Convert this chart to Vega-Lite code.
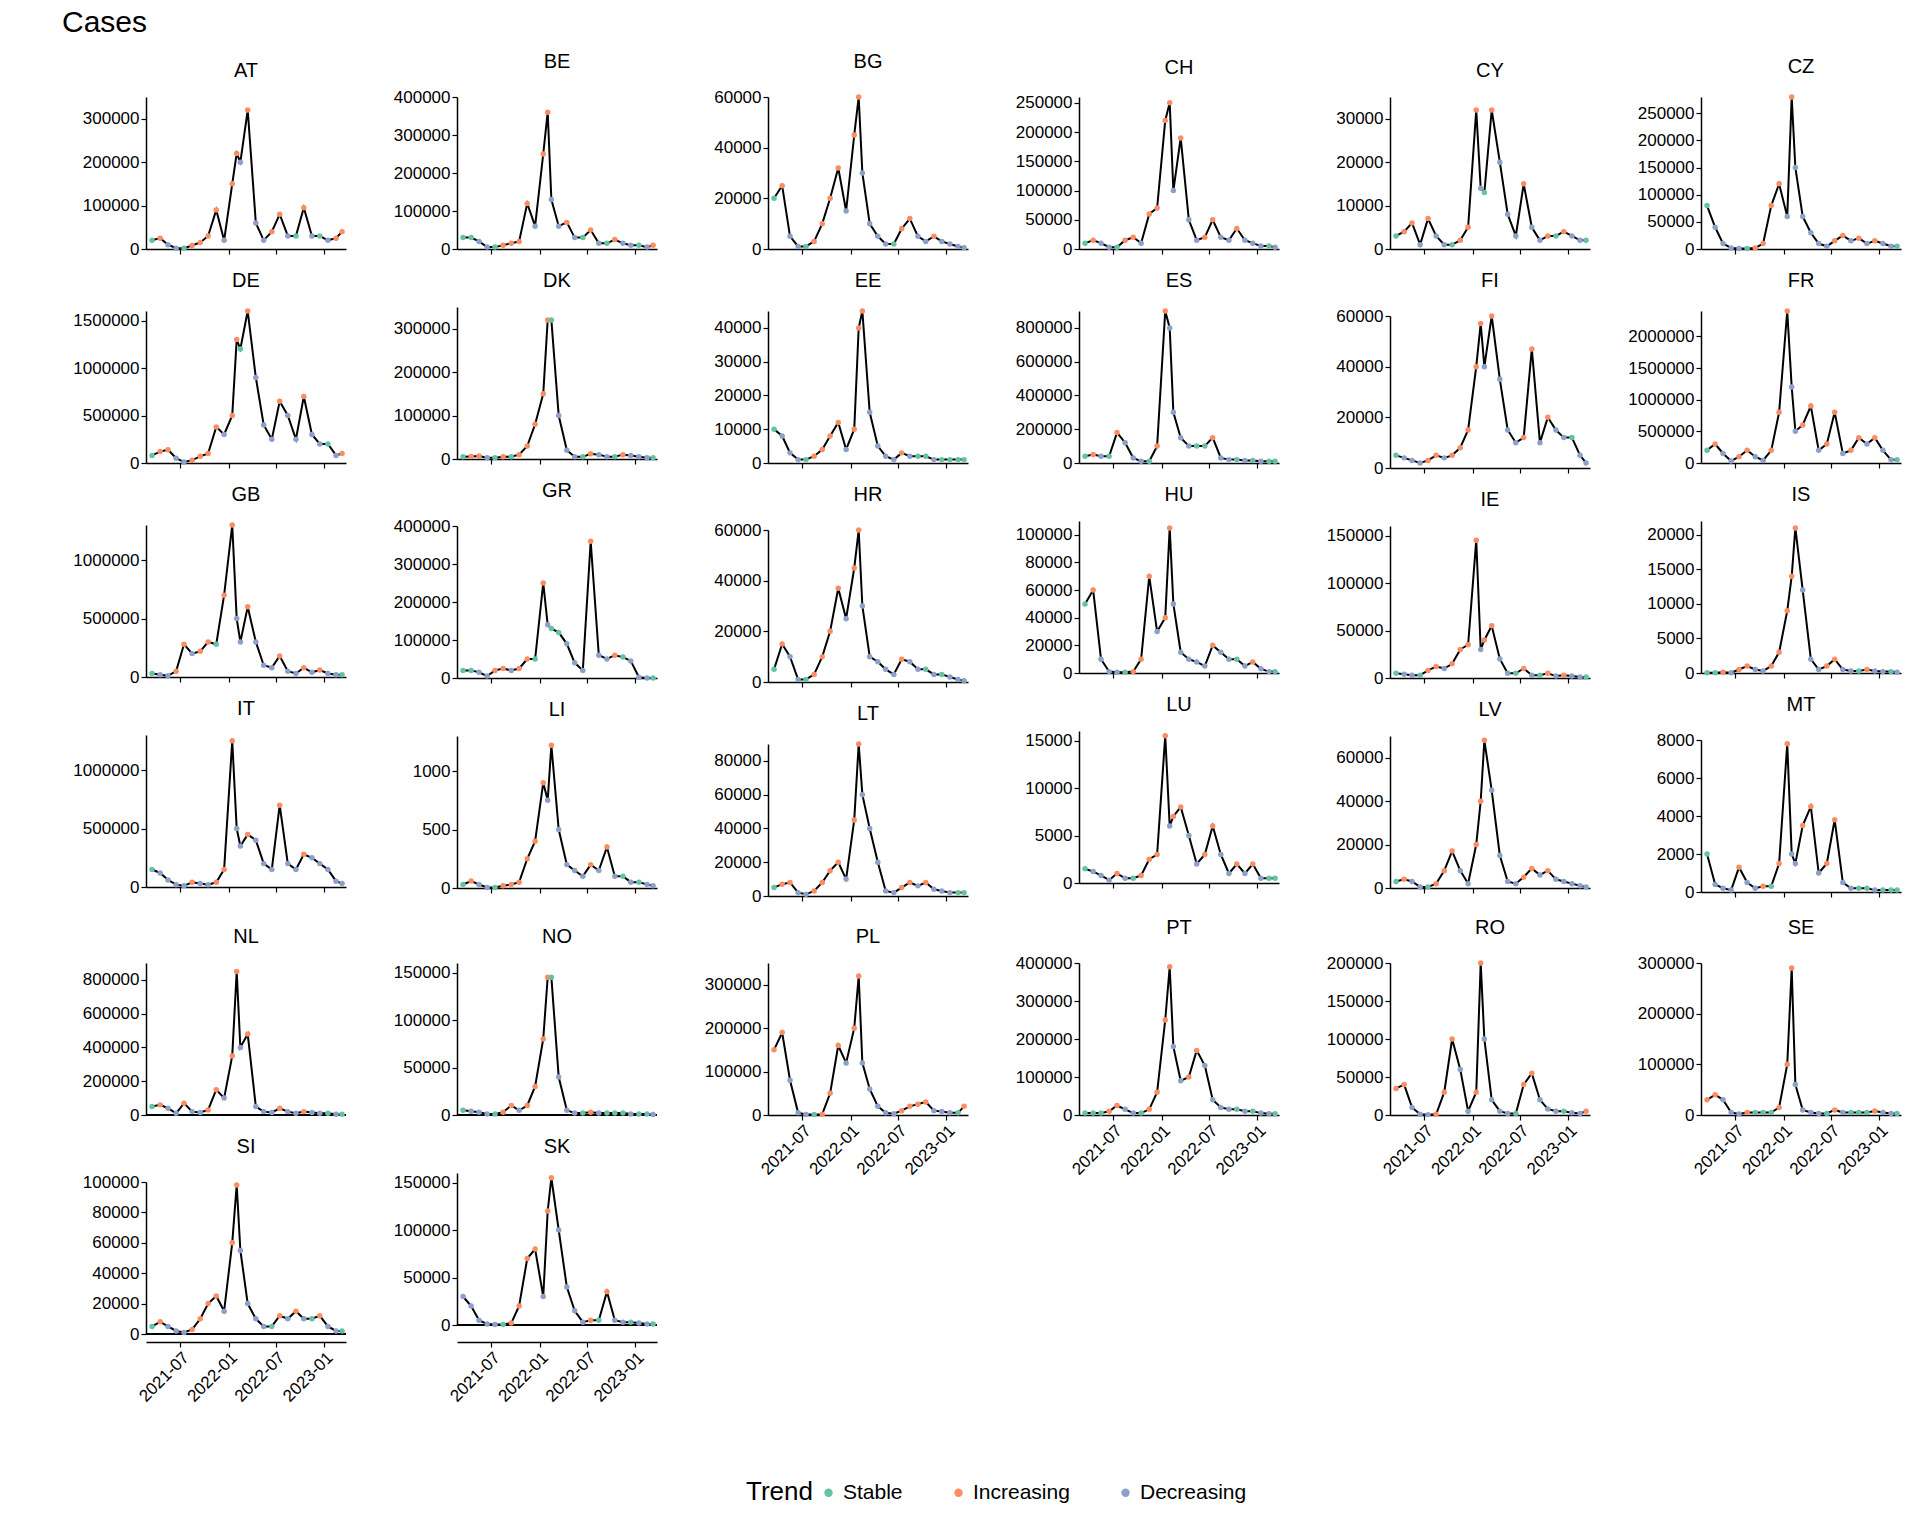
{"$schema":"https://vega.github.io/schema/vega-lite/v6.json","padding":{"left":62,"top":8,"right":5,"bottom":5},"title":{"text":"Cases","anchor":"start","fontSize":30,"fontWeight":"normal","font":"Liberation Sans","color":"black","offset":14},"data":{"values":[
{"c":"AT","d":"2021-03-15","v":20000,"t":"S"},{"c":"AT","d":"2021-04-15","v":25000,"t":"I"},{"c":"AT","d":"2021-05-15","v":10000,"t":"D"},{"c":"AT","d":"2021-06-15","v":2000,"t":"D"},{"c":"AT","d":"2021-07-15","v":2000,"t":"S"},{"c":"AT","d":"2021-08-15","v":8000,"t":"I"},{"c":"AT","d":"2021-09-15","v":15000,"t":"I"},{"c":"AT","d":"2021-10-15","v":30000,"t":"I"},{"c":"AT","d":"2021-11-15","v":90000,"t":"I"},{"c":"AT","d":"2021-12-15","v":20000,"t":"D"},{"c":"AT","d":"2022-01-15","v":150000,"t":"I"},{"c":"AT","d":"2022-02-01","v":220000,"t":"I"},{"c":"AT","d":"2022-02-15","v":200000,"t":"D"},{"c":"AT","d":"2022-03-15","v":320000,"t":"I"},{"c":"AT","d":"2022-04-15","v":60000,"t":"D"},{"c":"AT","d":"2022-05-15","v":20000,"t":"D"},{"c":"AT","d":"2022-06-15","v":40000,"t":"I"},{"c":"AT","d":"2022-07-15","v":80000,"t":"I"},{"c":"AT","d":"2022-08-15","v":30000,"t":"D"},{"c":"AT","d":"2022-09-15","v":30000,"t":"S"},{"c":"AT","d":"2022-10-15","v":95000,"t":"I"},{"c":"AT","d":"2022-11-15","v":30000,"t":"D"},{"c":"AT","d":"2022-12-15","v":30000,"t":"S"},{"c":"AT","d":"2023-01-15","v":20000,"t":"D"},{"c":"AT","d":"2023-02-15","v":25000,"t":"I"},{"c":"AT","d":"2023-03-10","v":40000,"t":"I"},
{"c":"BE","d":"2021-03-15","v":30000,"t":"S"},{"c":"BE","d":"2021-04-15","v":30000,"t":"S"},{"c":"BE","d":"2021-05-15","v":20000,"t":"D"},{"c":"BE","d":"2021-06-15","v":5000,"t":"D"},{"c":"BE","d":"2021-07-15","v":5000,"t":"S"},{"c":"BE","d":"2021-08-15","v":10000,"t":"I"},{"c":"BE","d":"2021-09-15","v":15000,"t":"I"},{"c":"BE","d":"2021-10-15","v":20000,"t":"I"},{"c":"BE","d":"2021-11-15","v":120000,"t":"I"},{"c":"BE","d":"2021-12-15","v":60000,"t":"D"},{"c":"BE","d":"2022-01-15","v":250000,"t":"I"},{"c":"BE","d":"2022-02-01","v":360000,"t":"I"},{"c":"BE","d":"2022-02-15","v":130000,"t":"D"},{"c":"BE","d":"2022-03-15","v":60000,"t":"D"},{"c":"BE","d":"2022-04-15","v":70000,"t":"I"},{"c":"BE","d":"2022-05-15","v":30000,"t":"D"},{"c":"BE","d":"2022-06-15","v":30000,"t":"S"},{"c":"BE","d":"2022-07-15","v":50000,"t":"I"},{"c":"BE","d":"2022-08-15","v":15000,"t":"D"},{"c":"BE","d":"2022-09-15","v":15000,"t":"S"},{"c":"BE","d":"2022-10-15","v":25000,"t":"I"},{"c":"BE","d":"2022-11-15","v":15000,"t":"D"},{"c":"BE","d":"2022-12-15","v":10000,"t":"D"},{"c":"BE","d":"2023-01-15","v":10000,"t":"S"},{"c":"BE","d":"2023-02-15","v":5000,"t":"D"},{"c":"BE","d":"2023-03-10","v":10000,"t":"I"},
{"c":"BG","d":"2021-03-15","v":20000,"t":"S"},{"c":"BG","d":"2021-04-15","v":25000,"t":"I"},{"c":"BG","d":"2021-05-15","v":5000,"t":"D"},{"c":"BG","d":"2021-06-15","v":1000,"t":"D"},{"c":"BG","d":"2021-07-15","v":1000,"t":"S"},{"c":"BG","d":"2021-08-15","v":3000,"t":"I"},{"c":"BG","d":"2021-09-15","v":10000,"t":"I"},{"c":"BG","d":"2021-10-15","v":20000,"t":"I"},{"c":"BG","d":"2021-11-15","v":32000,"t":"I"},{"c":"BG","d":"2021-12-15","v":15000,"t":"D"},{"c":"BG","d":"2022-01-15","v":45000,"t":"I"},{"c":"BG","d":"2022-02-01","v":60000,"t":"I"},{"c":"BG","d":"2022-02-15","v":30000,"t":"D"},{"c":"BG","d":"2022-03-15","v":10000,"t":"D"},{"c":"BG","d":"2022-04-15","v":5000,"t":"D"},{"c":"BG","d":"2022-05-15","v":2000,"t":"D"},{"c":"BG","d":"2022-06-15","v":2000,"t":"S"},{"c":"BG","d":"2022-07-15","v":8000,"t":"I"},{"c":"BG","d":"2022-08-15","v":12000,"t":"I"},{"c":"BG","d":"2022-09-15","v":5000,"t":"D"},{"c":"BG","d":"2022-10-15","v":3000,"t":"D"},{"c":"BG","d":"2022-11-15","v":5000,"t":"I"},{"c":"BG","d":"2022-12-15","v":3000,"t":"D"},{"c":"BG","d":"2023-01-15","v":2000,"t":"D"},{"c":"BG","d":"2023-02-15","v":1000,"t":"D"},{"c":"BG","d":"2023-03-10","v":500,"t":"D"},
{"c":"CH","d":"2021-03-15","v":10000,"t":"S"},{"c":"CH","d":"2021-04-15","v":15000,"t":"I"},{"c":"CH","d":"2021-05-15","v":10000,"t":"D"},{"c":"CH","d":"2021-06-15","v":3000,"t":"D"},{"c":"CH","d":"2021-07-15","v":3000,"t":"S"},{"c":"CH","d":"2021-08-15","v":15000,"t":"I"},{"c":"CH","d":"2021-09-15","v":20000,"t":"I"},{"c":"CH","d":"2021-10-15","v":10000,"t":"D"},{"c":"CH","d":"2021-11-15","v":60000,"t":"I"},{"c":"CH","d":"2021-12-15","v":70000,"t":"I"},{"c":"CH","d":"2022-01-15","v":220000,"t":"I"},{"c":"CH","d":"2022-02-01","v":250000,"t":"I"},{"c":"CH","d":"2022-02-15","v":100000,"t":"D"},{"c":"CH","d":"2022-03-15","v":190000,"t":"I"},{"c":"CH","d":"2022-04-15","v":50000,"t":"D"},{"c":"CH","d":"2022-05-15","v":15000,"t":"D"},{"c":"CH","d":"2022-06-15","v":20000,"t":"I"},{"c":"CH","d":"2022-07-15","v":50000,"t":"I"},{"c":"CH","d":"2022-08-15","v":20000,"t":"D"},{"c":"CH","d":"2022-09-15","v":15000,"t":"D"},{"c":"CH","d":"2022-10-15","v":35000,"t":"I"},{"c":"CH","d":"2022-11-15","v":15000,"t":"D"},{"c":"CH","d":"2022-12-15","v":10000,"t":"D"},{"c":"CH","d":"2023-01-15","v":5000,"t":"D"},{"c":"CH","d":"2023-02-15","v":5000,"t":"S"},{"c":"CH","d":"2023-03-10","v":3000,"t":"D"},
{"c":"CY","d":"2021-03-15","v":3000,"t":"S"},{"c":"CY","d":"2021-04-15","v":4000,"t":"I"},{"c":"CY","d":"2021-05-15","v":6000,"t":"I"},{"c":"CY","d":"2021-06-15","v":1000,"t":"D"},{"c":"CY","d":"2021-07-15","v":7000,"t":"I"},{"c":"CY","d":"2021-08-15","v":3000,"t":"D"},{"c":"CY","d":"2021-09-15","v":1000,"t":"D"},{"c":"CY","d":"2021-10-15","v":1000,"t":"S"},{"c":"CY","d":"2021-11-15","v":2000,"t":"I"},{"c":"CY","d":"2021-12-15","v":5000,"t":"I"},{"c":"CY","d":"2022-01-15","v":32000,"t":"I"},{"c":"CY","d":"2022-02-01","v":14000,"t":"D"},{"c":"CY","d":"2022-02-15","v":13000,"t":"S"},{"c":"CY","d":"2022-03-15","v":32000,"t":"I"},{"c":"CY","d":"2022-04-15","v":20000,"t":"D"},{"c":"CY","d":"2022-05-15","v":8000,"t":"D"},{"c":"CY","d":"2022-06-15","v":3000,"t":"D"},{"c":"CY","d":"2022-07-15","v":15000,"t":"I"},{"c":"CY","d":"2022-08-15","v":5000,"t":"D"},{"c":"CY","d":"2022-09-15","v":2000,"t":"D"},{"c":"CY","d":"2022-10-15","v":3000,"t":"I"},{"c":"CY","d":"2022-11-15","v":3000,"t":"S"},{"c":"CY","d":"2022-12-15","v":4000,"t":"I"},{"c":"CY","d":"2023-01-15","v":3000,"t":"D"},{"c":"CY","d":"2023-02-15","v":2000,"t":"D"},{"c":"CY","d":"2023-03-10","v":2000,"t":"S"},
{"c":"CZ","d":"2021-03-15","v":80000,"t":"S"},{"c":"CZ","d":"2021-04-15","v":40000,"t":"D"},{"c":"CZ","d":"2021-05-15","v":10000,"t":"D"},{"c":"CZ","d":"2021-06-15","v":2000,"t":"D"},{"c":"CZ","d":"2021-07-15","v":1000,"t":"D"},{"c":"CZ","d":"2021-08-15","v":1000,"t":"S"},{"c":"CZ","d":"2021-09-15","v":2000,"t":"I"},{"c":"CZ","d":"2021-10-15","v":10000,"t":"I"},{"c":"CZ","d":"2021-11-15","v":80000,"t":"I"},{"c":"CZ","d":"2021-12-15","v":120000,"t":"I"},{"c":"CZ","d":"2022-01-15","v":60000,"t":"D"},{"c":"CZ","d":"2022-02-01","v":280000,"t":"I"},{"c":"CZ","d":"2022-02-15","v":150000,"t":"D"},{"c":"CZ","d":"2022-03-15","v":60000,"t":"D"},{"c":"CZ","d":"2022-04-15","v":30000,"t":"D"},{"c":"CZ","d":"2022-05-15","v":10000,"t":"D"},{"c":"CZ","d":"2022-06-15","v":5000,"t":"D"},{"c":"CZ","d":"2022-07-15","v":15000,"t":"I"},{"c":"CZ","d":"2022-08-15","v":25000,"t":"I"},{"c":"CZ","d":"2022-09-15","v":15000,"t":"D"},{"c":"CZ","d":"2022-10-15","v":20000,"t":"I"},{"c":"CZ","d":"2022-11-15","v":10000,"t":"D"},{"c":"CZ","d":"2022-12-15","v":15000,"t":"I"},{"c":"CZ","d":"2023-01-15","v":10000,"t":"D"},{"c":"CZ","d":"2023-02-15","v":5000,"t":"D"},{"c":"CZ","d":"2023-03-10","v":5000,"t":"S"},
{"c":"DE","d":"2021-03-15","v":80000,"t":"S"},{"c":"DE","d":"2021-04-15","v":120000,"t":"I"},{"c":"DE","d":"2021-05-15","v":140000,"t":"I"},{"c":"DE","d":"2021-06-15","v":50000,"t":"D"},{"c":"DE","d":"2021-07-15","v":10000,"t":"D"},{"c":"DE","d":"2021-08-15","v":30000,"t":"I"},{"c":"DE","d":"2021-09-15","v":70000,"t":"I"},{"c":"DE","d":"2021-10-15","v":100000,"t":"I"},{"c":"DE","d":"2021-11-15","v":380000,"t":"I"},{"c":"DE","d":"2021-12-15","v":300000,"t":"D"},{"c":"DE","d":"2022-01-15","v":500000,"t":"I"},{"c":"DE","d":"2022-02-01","v":1300000,"t":"I"},{"c":"DE","d":"2022-02-15","v":1200000,"t":"S"},{"c":"DE","d":"2022-03-15","v":1600000,"t":"I"},{"c":"DE","d":"2022-04-15","v":900000,"t":"D"},{"c":"DE","d":"2022-05-15","v":400000,"t":"D"},{"c":"DE","d":"2022-06-15","v":250000,"t":"D"},{"c":"DE","d":"2022-07-15","v":650000,"t":"I"},{"c":"DE","d":"2022-08-15","v":500000,"t":"D"},{"c":"DE","d":"2022-09-15","v":250000,"t":"D"},{"c":"DE","d":"2022-10-15","v":700000,"t":"I"},{"c":"DE","d":"2022-11-15","v":300000,"t":"D"},{"c":"DE","d":"2022-12-15","v":200000,"t":"D"},{"c":"DE","d":"2023-01-15","v":200000,"t":"S"},{"c":"DE","d":"2023-02-15","v":80000,"t":"D"},{"c":"DE","d":"2023-03-10","v":100000,"t":"I"},
{"c":"DK","d":"2021-03-15","v":5000,"t":"S"},{"c":"DK","d":"2021-04-15","v":6000,"t":"I"},{"c":"DK","d":"2021-05-15","v":7000,"t":"I"},{"c":"DK","d":"2021-06-15","v":3000,"t":"D"},{"c":"DK","d":"2021-07-15","v":3000,"t":"S"},{"c":"DK","d":"2021-08-15","v":5000,"t":"I"},{"c":"DK","d":"2021-09-15","v":5000,"t":"S"},{"c":"DK","d":"2021-10-15","v":10000,"t":"I"},{"c":"DK","d":"2021-11-15","v":30000,"t":"I"},{"c":"DK","d":"2021-12-15","v":80000,"t":"I"},{"c":"DK","d":"2022-01-15","v":150000,"t":"I"},{"c":"DK","d":"2022-02-01","v":320000,"t":"I"},{"c":"DK","d":"2022-02-15","v":320000,"t":"S"},{"c":"DK","d":"2022-03-15","v":100000,"t":"D"},{"c":"DK","d":"2022-04-15","v":20000,"t":"D"},{"c":"DK","d":"2022-05-15","v":5000,"t":"D"},{"c":"DK","d":"2022-06-15","v":5000,"t":"S"},{"c":"DK","d":"2022-07-15","v":12000,"t":"I"},{"c":"DK","d":"2022-08-15","v":10000,"t":"D"},{"c":"DK","d":"2022-09-15","v":5000,"t":"D"},{"c":"DK","d":"2022-10-15","v":5000,"t":"S"},{"c":"DK","d":"2022-11-15","v":10000,"t":"I"},{"c":"DK","d":"2022-12-15","v":8000,"t":"D"},{"c":"DK","d":"2023-01-15","v":5000,"t":"D"},{"c":"DK","d":"2023-02-15","v":3000,"t":"D"},{"c":"DK","d":"2023-03-10","v":3000,"t":"S"},
{"c":"EE","d":"2021-03-15","v":10000,"t":"S"},{"c":"EE","d":"2021-04-15","v":8000,"t":"D"},{"c":"EE","d":"2021-05-15","v":3000,"t":"D"},{"c":"EE","d":"2021-06-15","v":1000,"t":"D"},{"c":"EE","d":"2021-07-15","v":1000,"t":"S"},{"c":"EE","d":"2021-08-15","v":2000,"t":"I"},{"c":"EE","d":"2021-09-15","v":4000,"t":"I"},{"c":"EE","d":"2021-10-15","v":8000,"t":"I"},{"c":"EE","d":"2021-11-15","v":12000,"t":"I"},{"c":"EE","d":"2021-12-15","v":4000,"t":"D"},{"c":"EE","d":"2022-01-15","v":10000,"t":"I"},{"c":"EE","d":"2022-02-01","v":40000,"t":"I"},{"c":"EE","d":"2022-02-15","v":45000,"t":"I"},{"c":"EE","d":"2022-03-15","v":15000,"t":"D"},{"c":"EE","d":"2022-04-15","v":5000,"t":"D"},{"c":"EE","d":"2022-05-15","v":2000,"t":"D"},{"c":"EE","d":"2022-06-15","v":1000,"t":"D"},{"c":"EE","d":"2022-07-15","v":3000,"t":"I"},{"c":"EE","d":"2022-08-15","v":2000,"t":"D"},{"c":"EE","d":"2022-09-15","v":2000,"t":"S"},{"c":"EE","d":"2022-10-15","v":2000,"t":"S"},{"c":"EE","d":"2022-11-15","v":1000,"t":"D"},{"c":"EE","d":"2022-12-15","v":1000,"t":"S"},{"c":"EE","d":"2023-01-15","v":1000,"t":"S"},{"c":"EE","d":"2023-02-15","v":1000,"t":"S"},{"c":"EE","d":"2023-03-10","v":1000,"t":"S"},
{"c":"ES","d":"2021-03-15","v":40000,"t":"S"},{"c":"ES","d":"2021-04-15","v":50000,"t":"I"},{"c":"ES","d":"2021-05-15","v":40000,"t":"D"},{"c":"ES","d":"2021-06-15","v":40000,"t":"S"},{"c":"ES","d":"2021-07-15","v":180000,"t":"I"},{"c":"ES","d":"2021-08-15","v":120000,"t":"D"},{"c":"ES","d":"2021-09-15","v":30000,"t":"D"},{"c":"ES","d":"2021-10-15","v":10000,"t":"D"},{"c":"ES","d":"2021-11-15","v":10000,"t":"S"},{"c":"ES","d":"2021-12-15","v":100000,"t":"I"},{"c":"ES","d":"2022-01-15","v":900000,"t":"I"},{"c":"ES","d":"2022-02-01","v":800000,"t":"D"},{"c":"ES","d":"2022-02-15","v":300000,"t":"D"},{"c":"ES","d":"2022-03-15","v":150000,"t":"D"},{"c":"ES","d":"2022-04-15","v":100000,"t":"D"},{"c":"ES","d":"2022-05-15","v":100000,"t":"S"},{"c":"ES","d":"2022-06-15","v":100000,"t":"S"},{"c":"ES","d":"2022-07-15","v":150000,"t":"I"},{"c":"ES","d":"2022-08-15","v":30000,"t":"D"},{"c":"ES","d":"2022-09-15","v":20000,"t":"D"},{"c":"ES","d":"2022-10-15","v":20000,"t":"S"},{"c":"ES","d":"2022-11-15","v":15000,"t":"D"},{"c":"ES","d":"2022-12-15","v":15000,"t":"S"},{"c":"ES","d":"2023-01-15","v":10000,"t":"D"},{"c":"ES","d":"2023-02-15","v":10000,"t":"S"},{"c":"ES","d":"2023-03-10","v":10000,"t":"S"},
{"c":"FI","d":"2021-03-15","v":5000,"t":"S"},{"c":"FI","d":"2021-04-15","v":4000,"t":"D"},{"c":"FI","d":"2021-05-15","v":3000,"t":"D"},{"c":"FI","d":"2021-06-15","v":2000,"t":"D"},{"c":"FI","d":"2021-07-15","v":3000,"t":"I"},{"c":"FI","d":"2021-08-15","v":5000,"t":"I"},{"c":"FI","d":"2021-09-15","v":4000,"t":"D"},{"c":"FI","d":"2021-10-15","v":5000,"t":"I"},{"c":"FI","d":"2021-11-15","v":8000,"t":"I"},{"c":"FI","d":"2021-12-15","v":15000,"t":"I"},{"c":"FI","d":"2022-01-15","v":40000,"t":"I"},{"c":"FI","d":"2022-02-01","v":57000,"t":"I"},{"c":"FI","d":"2022-02-15","v":40000,"t":"D"},{"c":"FI","d":"2022-03-15","v":60000,"t":"I"},{"c":"FI","d":"2022-04-15","v":35000,"t":"D"},{"c":"FI","d":"2022-05-15","v":15000,"t":"D"},{"c":"FI","d":"2022-06-15","v":10000,"t":"D"},{"c":"FI","d":"2022-07-15","v":12000,"t":"I"},{"c":"FI","d":"2022-08-15","v":47000,"t":"I"},{"c":"FI","d":"2022-09-15","v":10000,"t":"D"},{"c":"FI","d":"2022-10-15","v":20000,"t":"I"},{"c":"FI","d":"2022-11-15","v":15000,"t":"D"},{"c":"FI","d":"2022-12-15","v":12000,"t":"D"},{"c":"FI","d":"2023-01-15","v":12000,"t":"S"},{"c":"FI","d":"2023-02-15","v":5000,"t":"D"},{"c":"FI","d":"2023-03-10","v":2000,"t":"D"},
{"c":"FR","d":"2021-03-15","v":200000,"t":"S"},{"c":"FR","d":"2021-04-15","v":300000,"t":"I"},{"c":"FR","d":"2021-05-15","v":150000,"t":"D"},{"c":"FR","d":"2021-06-15","v":30000,"t":"D"},{"c":"FR","d":"2021-07-15","v":100000,"t":"I"},{"c":"FR","d":"2021-08-15","v":200000,"t":"I"},{"c":"FR","d":"2021-09-15","v":100000,"t":"D"},{"c":"FR","d":"2021-10-15","v":40000,"t":"D"},{"c":"FR","d":"2021-11-15","v":200000,"t":"I"},{"c":"FR","d":"2021-12-15","v":800000,"t":"I"},{"c":"FR","d":"2022-01-15","v":2400000,"t":"I"},{"c":"FR","d":"2022-02-01","v":1200000,"t":"D"},{"c":"FR","d":"2022-02-15","v":500000,"t":"D"},{"c":"FR","d":"2022-03-15","v":600000,"t":"I"},{"c":"FR","d":"2022-04-15","v":900000,"t":"I"},{"c":"FR","d":"2022-05-15","v":200000,"t":"D"},{"c":"FR","d":"2022-06-15","v":300000,"t":"I"},{"c":"FR","d":"2022-07-15","v":800000,"t":"I"},{"c":"FR","d":"2022-08-15","v":150000,"t":"D"},{"c":"FR","d":"2022-09-15","v":200000,"t":"I"},{"c":"FR","d":"2022-10-15","v":400000,"t":"I"},{"c":"FR","d":"2022-11-15","v":300000,"t":"D"},{"c":"FR","d":"2022-12-15","v":400000,"t":"I"},{"c":"FR","d":"2023-01-15","v":200000,"t":"D"},{"c":"FR","d":"2023-02-15","v":50000,"t":"D"},{"c":"FR","d":"2023-03-10","v":50000,"t":"S"},
{"c":"GB","d":"2021-03-15","v":30000,"t":"S"},{"c":"GB","d":"2021-04-15","v":20000,"t":"D"},{"c":"GB","d":"2021-05-15","v":10000,"t":"D"},{"c":"GB","d":"2021-06-15","v":50000,"t":"I"},{"c":"GB","d":"2021-07-15","v":280000,"t":"I"},{"c":"GB","d":"2021-08-15","v":200000,"t":"D"},{"c":"GB","d":"2021-09-15","v":220000,"t":"I"},{"c":"GB","d":"2021-10-15","v":300000,"t":"I"},{"c":"GB","d":"2021-11-15","v":280000,"t":"S"},{"c":"GB","d":"2021-12-15","v":700000,"t":"I"},{"c":"GB","d":"2022-01-15","v":1300000,"t":"I"},{"c":"GB","d":"2022-02-01","v":500000,"t":"D"},{"c":"GB","d":"2022-02-15","v":300000,"t":"D"},{"c":"GB","d":"2022-03-15","v":600000,"t":"I"},{"c":"GB","d":"2022-04-15","v":300000,"t":"D"},{"c":"GB","d":"2022-05-15","v":100000,"t":"D"},{"c":"GB","d":"2022-06-15","v":80000,"t":"D"},{"c":"GB","d":"2022-07-15","v":180000,"t":"I"},{"c":"GB","d":"2022-08-15","v":50000,"t":"D"},{"c":"GB","d":"2022-09-15","v":30000,"t":"D"},{"c":"GB","d":"2022-10-15","v":80000,"t":"I"},{"c":"GB","d":"2022-11-15","v":40000,"t":"D"},{"c":"GB","d":"2022-12-15","v":60000,"t":"I"},{"c":"GB","d":"2023-01-15","v":30000,"t":"D"},{"c":"GB","d":"2023-02-15","v":20000,"t":"D"},{"c":"GB","d":"2023-03-10","v":20000,"t":"S"},
{"c":"GR","d":"2021-03-15","v":20000,"t":"S"},{"c":"GR","d":"2021-04-15","v":20000,"t":"S"},{"c":"GR","d":"2021-05-15","v":15000,"t":"D"},{"c":"GR","d":"2021-06-15","v":5000,"t":"D"},{"c":"GR","d":"2021-07-15","v":20000,"t":"I"},{"c":"GR","d":"2021-08-15","v":25000,"t":"I"},{"c":"GR","d":"2021-09-15","v":20000,"t":"D"},{"c":"GR","d":"2021-10-15","v":25000,"t":"I"},{"c":"GR","d":"2021-11-15","v":50000,"t":"I"},{"c":"GR","d":"2021-12-15","v":50000,"t":"S"},{"c":"GR","d":"2022-01-15","v":250000,"t":"I"},{"c":"GR","d":"2022-02-01","v":140000,"t":"D"},{"c":"GR","d":"2022-02-15","v":130000,"t":"S"},{"c":"GR","d":"2022-03-15","v":120000,"t":"S"},{"c":"GR","d":"2022-04-15","v":90000,"t":"D"},{"c":"GR","d":"2022-05-15","v":40000,"t":"D"},{"c":"GR","d":"2022-06-15","v":20000,"t":"D"},{"c":"GR","d":"2022-07-15","v":360000,"t":"I"},{"c":"GR","d":"2022-08-15","v":60000,"t":"D"},{"c":"GR","d":"2022-09-15","v":50000,"t":"D"},{"c":"GR","d":"2022-10-15","v":60000,"t":"I"},{"c":"GR","d":"2022-11-15","v":55000,"t":"S"},{"c":"GR","d":"2022-12-15","v":45000,"t":"D"},{"c":"GR","d":"2023-01-15","v":2000,"t":"D"},{"c":"GR","d":"2023-02-15","v":0,"t":"D"},{"c":"GR","d":"2023-03-10","v":0,"t":"S"},
{"c":"HR","d":"2021-03-15","v":5000,"t":"S"},{"c":"HR","d":"2021-04-15","v":15000,"t":"I"},{"c":"HR","d":"2021-05-15","v":10000,"t":"D"},{"c":"HR","d":"2021-06-15","v":1000,"t":"D"},{"c":"HR","d":"2021-07-15","v":1000,"t":"S"},{"c":"HR","d":"2021-08-15","v":3000,"t":"I"},{"c":"HR","d":"2021-09-15","v":10000,"t":"I"},{"c":"HR","d":"2021-10-15","v":20000,"t":"I"},{"c":"HR","d":"2021-11-15","v":37000,"t":"I"},{"c":"HR","d":"2021-12-15","v":25000,"t":"D"},{"c":"HR","d":"2022-01-15","v":45000,"t":"I"},{"c":"HR","d":"2022-02-01","v":60000,"t":"I"},{"c":"HR","d":"2022-02-15","v":30000,"t":"D"},{"c":"HR","d":"2022-03-15","v":10000,"t":"D"},{"c":"HR","d":"2022-04-15","v":8000,"t":"D"},{"c":"HR","d":"2022-05-15","v":5000,"t":"D"},{"c":"HR","d":"2022-06-15","v":3000,"t":"D"},{"c":"HR","d":"2022-07-15","v":9000,"t":"I"},{"c":"HR","d":"2022-08-15","v":8000,"t":"D"},{"c":"HR","d":"2022-09-15","v":5000,"t":"D"},{"c":"HR","d":"2022-10-15","v":5000,"t":"S"},{"c":"HR","d":"2022-11-15","v":3000,"t":"D"},{"c":"HR","d":"2022-12-15","v":3000,"t":"S"},{"c":"HR","d":"2023-01-15","v":2000,"t":"D"},{"c":"HR","d":"2023-02-15","v":1000,"t":"D"},{"c":"HR","d":"2023-03-10","v":500,"t":"D"},
{"c":"HU","d":"2021-03-15","v":50000,"t":"S"},{"c":"HU","d":"2021-04-15","v":60000,"t":"I"},{"c":"HU","d":"2021-05-15","v":10000,"t":"D"},{"c":"HU","d":"2021-06-15","v":1000,"t":"D"},{"c":"HU","d":"2021-07-15","v":500,"t":"D"},{"c":"HU","d":"2021-08-15","v":500,"t":"S"},{"c":"HU","d":"2021-09-15","v":1000,"t":"I"},{"c":"HU","d":"2021-10-15","v":10000,"t":"I"},{"c":"HU","d":"2021-11-15","v":70000,"t":"I"},{"c":"HU","d":"2021-12-15","v":30000,"t":"D"},{"c":"HU","d":"2022-01-15","v":40000,"t":"I"},{"c":"HU","d":"2022-02-01","v":105000,"t":"I"},{"c":"HU","d":"2022-02-15","v":50000,"t":"D"},{"c":"HU","d":"2022-03-15","v":15000,"t":"D"},{"c":"HU","d":"2022-04-15","v":10000,"t":"D"},{"c":"HU","d":"2022-05-15","v":8000,"t":"D"},{"c":"HU","d":"2022-06-15","v":5000,"t":"D"},{"c":"HU","d":"2022-07-15","v":20000,"t":"I"},{"c":"HU","d":"2022-08-15","v":15000,"t":"D"},{"c":"HU","d":"2022-09-15","v":10000,"t":"D"},{"c":"HU","d":"2022-10-15","v":10000,"t":"S"},{"c":"HU","d":"2022-11-15","v":5000,"t":"D"},{"c":"HU","d":"2022-12-15","v":8000,"t":"I"},{"c":"HU","d":"2023-01-15","v":3000,"t":"D"},{"c":"HU","d":"2023-02-15","v":1000,"t":"D"},{"c":"HU","d":"2023-03-10","v":1000,"t":"S"},
{"c":"IE","d":"2021-03-15","v":5000,"t":"S"},{"c":"IE","d":"2021-04-15","v":4000,"t":"D"},{"c":"IE","d":"2021-05-15","v":3000,"t":"D"},{"c":"IE","d":"2021-06-15","v":3000,"t":"S"},{"c":"IE","d":"2021-07-15","v":8000,"t":"I"},{"c":"IE","d":"2021-08-15","v":12000,"t":"I"},{"c":"IE","d":"2021-09-15","v":10000,"t":"D"},{"c":"IE","d":"2021-10-15","v":15000,"t":"I"},{"c":"IE","d":"2021-11-15","v":30000,"t":"I"},{"c":"IE","d":"2021-12-15","v":35000,"t":"I"},{"c":"IE","d":"2022-01-15","v":145000,"t":"I"},{"c":"IE","d":"2022-02-01","v":30000,"t":"D"},{"c":"IE","d":"2022-02-15","v":40000,"t":"I"},{"c":"IE","d":"2022-03-15","v":55000,"t":"I"},{"c":"IE","d":"2022-04-15","v":20000,"t":"D"},{"c":"IE","d":"2022-05-15","v":5000,"t":"D"},{"c":"IE","d":"2022-06-15","v":5000,"t":"S"},{"c":"IE","d":"2022-07-15","v":10000,"t":"I"},{"c":"IE","d":"2022-08-15","v":3000,"t":"D"},{"c":"IE","d":"2022-09-15","v":3000,"t":"S"},{"c":"IE","d":"2022-10-15","v":5000,"t":"I"},{"c":"IE","d":"2022-11-15","v":2000,"t":"D"},{"c":"IE","d":"2022-12-15","v":3000,"t":"I"},{"c":"IE","d":"2023-01-15","v":2000,"t":"D"},{"c":"IE","d":"2023-02-15","v":1000,"t":"D"},{"c":"IE","d":"2023-03-10","v":1000,"t":"S"},
{"c":"IS","d":"2021-03-15","v":50,"t":"S"},{"c":"IS","d":"2021-04-15","v":50,"t":"S"},{"c":"IS","d":"2021-05-15","v":100,"t":"I"},{"c":"IS","d":"2021-06-15","v":50,"t":"D"},{"c":"IS","d":"2021-07-15","v":500,"t":"I"},{"c":"IS","d":"2021-08-15","v":1000,"t":"I"},{"c":"IS","d":"2021-09-15","v":500,"t":"D"},{"c":"IS","d":"2021-10-15","v":300,"t":"D"},{"c":"IS","d":"2021-11-15","v":1000,"t":"I"},{"c":"IS","d":"2021-12-15","v":3000,"t":"I"},{"c":"IS","d":"2022-01-15","v":9000,"t":"I"},{"c":"IS","d":"2022-02-01","v":14000,"t":"I"},{"c":"IS","d":"2022-02-15","v":21000,"t":"I"},{"c":"IS","d":"2022-03-15","v":12000,"t":"D"},{"c":"IS","d":"2022-04-15","v":2000,"t":"D"},{"c":"IS","d":"2022-05-15","v":500,"t":"D"},{"c":"IS","d":"2022-06-15","v":1000,"t":"I"},{"c":"IS","d":"2022-07-15","v":2000,"t":"I"},{"c":"IS","d":"2022-08-15","v":500,"t":"D"},{"c":"IS","d":"2022-09-15","v":300,"t":"D"},{"c":"IS","d":"2022-10-15","v":300,"t":"S"},{"c":"IS","d":"2022-11-15","v":500,"t":"I"},{"c":"IS","d":"2022-12-15","v":300,"t":"D"},{"c":"IS","d":"2023-01-15","v":200,"t":"D"},{"c":"IS","d":"2023-02-15","v":200,"t":"S"},{"c":"IS","d":"2023-03-10","v":100,"t":"D"},
{"c":"IT","d":"2021-03-15","v":150000,"t":"S"},{"c":"IT","d":"2021-04-15","v":120000,"t":"D"},{"c":"IT","d":"2021-05-15","v":60000,"t":"D"},{"c":"IT","d":"2021-06-15","v":20000,"t":"D"},{"c":"IT","d":"2021-07-15","v":10000,"t":"D"},{"c":"IT","d":"2021-08-15","v":40000,"t":"I"},{"c":"IT","d":"2021-09-15","v":30000,"t":"D"},{"c":"IT","d":"2021-10-15","v":20000,"t":"D"},{"c":"IT","d":"2021-11-15","v":40000,"t":"I"},{"c":"IT","d":"2021-12-15","v":150000,"t":"I"},{"c":"IT","d":"2022-01-15","v":1250000,"t":"I"},{"c":"IT","d":"2022-02-01","v":500000,"t":"D"},{"c":"IT","d":"2022-02-15","v":350000,"t":"D"},{"c":"IT","d":"2022-03-15","v":450000,"t":"I"},{"c":"IT","d":"2022-04-15","v":400000,"t":"D"},{"c":"IT","d":"2022-05-15","v":200000,"t":"D"},{"c":"IT","d":"2022-06-15","v":150000,"t":"D"},{"c":"IT","d":"2022-07-15","v":700000,"t":"I"},{"c":"IT","d":"2022-08-15","v":200000,"t":"D"},{"c":"IT","d":"2022-09-15","v":150000,"t":"D"},{"c":"IT","d":"2022-10-15","v":280000,"t":"I"},{"c":"IT","d":"2022-11-15","v":250000,"t":"D"},{"c":"IT","d":"2022-12-15","v":200000,"t":"D"},{"c":"IT","d":"2023-01-15","v":150000,"t":"D"},{"c":"IT","d":"2023-02-15","v":50000,"t":"D"},{"c":"IT","d":"2023-03-10","v":30000,"t":"D"},
{"c":"LI","d":"2021-03-15","v":30,"t":"S"},{"c":"LI","d":"2021-04-15","v":60,"t":"I"},{"c":"LI","d":"2021-05-15","v":30,"t":"D"},{"c":"LI","d":"2021-06-15","v":5,"t":"D"},{"c":"LI","d":"2021-07-15","v":5,"t":"S"},{"c":"LI","d":"2021-08-15","v":20,"t":"I"},{"c":"LI","d":"2021-09-15","v":30,"t":"I"},{"c":"LI","d":"2021-10-15","v":50,"t":"I"},{"c":"LI","d":"2021-11-15","v":250,"t":"I"},{"c":"LI","d":"2021-12-15","v":400,"t":"I"},{"c":"LI","d":"2022-01-15","v":900,"t":"I"},{"c":"LI","d":"2022-02-01","v":750,"t":"D"},{"c":"LI","d":"2022-02-15","v":1220,"t":"I"},{"c":"LI","d":"2022-03-15","v":500,"t":"D"},{"c":"LI","d":"2022-04-15","v":200,"t":"D"},{"c":"LI","d":"2022-05-15","v":150,"t":"D"},{"c":"LI","d":"2022-06-15","v":100,"t":"D"},{"c":"LI","d":"2022-07-15","v":200,"t":"I"},{"c":"LI","d":"2022-08-15","v":150,"t":"D"},{"c":"LI","d":"2022-09-15","v":350,"t":"I"},{"c":"LI","d":"2022-10-15","v":100,"t":"D"},{"c":"LI","d":"2022-11-15","v":100,"t":"S"},{"c":"LI","d":"2022-12-15","v":50,"t":"D"},{"c":"LI","d":"2023-01-15","v":50,"t":"S"},{"c":"LI","d":"2023-02-15","v":30,"t":"D"},{"c":"LI","d":"2023-03-10","v":20,"t":"D"},
{"c":"LT","d":"2021-03-15","v":5000,"t":"S"},{"c":"LT","d":"2021-04-15","v":7000,"t":"I"},{"c":"LT","d":"2021-05-15","v":8000,"t":"I"},{"c":"LT","d":"2021-06-15","v":2000,"t":"D"},{"c":"LT","d":"2021-07-15","v":1000,"t":"D"},{"c":"LT","d":"2021-08-15","v":3000,"t":"I"},{"c":"LT","d":"2021-09-15","v":8000,"t":"I"},{"c":"LT","d":"2021-10-15","v":15000,"t":"I"},{"c":"LT","d":"2021-11-15","v":20000,"t":"I"},{"c":"LT","d":"2021-12-15","v":10000,"t":"D"},{"c":"LT","d":"2022-01-15","v":45000,"t":"I"},{"c":"LT","d":"2022-02-01","v":90000,"t":"I"},{"c":"LT","d":"2022-02-15","v":60000,"t":"D"},{"c":"LT","d":"2022-03-15","v":40000,"t":"D"},{"c":"LT","d":"2022-04-15","v":20000,"t":"D"},{"c":"LT","d":"2022-05-15","v":3000,"t":"D"},{"c":"LT","d":"2022-06-15","v":2000,"t":"D"},{"c":"LT","d":"2022-07-15","v":5000,"t":"I"},{"c":"LT","d":"2022-08-15","v":8000,"t":"I"},{"c":"LT","d":"2022-09-15","v":6000,"t":"D"},{"c":"LT","d":"2022-10-15","v":8000,"t":"I"},{"c":"LT","d":"2022-11-15","v":4000,"t":"D"},{"c":"LT","d":"2022-12-15","v":3000,"t":"D"},{"c":"LT","d":"2023-01-15","v":2000,"t":"D"},{"c":"LT","d":"2023-02-15","v":2000,"t":"S"},{"c":"LT","d":"2023-03-10","v":2000,"t":"S"},
{"c":"LU","d":"2021-03-15","v":1500,"t":"S"},{"c":"LU","d":"2021-04-15","v":1200,"t":"D"},{"c":"LU","d":"2021-05-15","v":800,"t":"D"},{"c":"LU","d":"2021-06-15","v":300,"t":"D"},{"c":"LU","d":"2021-07-15","v":1000,"t":"I"},{"c":"LU","d":"2021-08-15","v":500,"t":"D"},{"c":"LU","d":"2021-09-15","v":500,"t":"S"},{"c":"LU","d":"2021-10-15","v":800,"t":"I"},{"c":"LU","d":"2021-11-15","v":2500,"t":"I"},{"c":"LU","d":"2021-12-15","v":3000,"t":"I"},{"c":"LU","d":"2022-01-15","v":15500,"t":"I"},{"c":"LU","d":"2022-02-01","v":6000,"t":"D"},{"c":"LU","d":"2022-02-15","v":7000,"t":"I"},{"c":"LU","d":"2022-03-15","v":8000,"t":"I"},{"c":"LU","d":"2022-04-15","v":5000,"t":"D"},{"c":"LU","d":"2022-05-15","v":2000,"t":"D"},{"c":"LU","d":"2022-06-15","v":3000,"t":"I"},{"c":"LU","d":"2022-07-15","v":6000,"t":"I"},{"c":"LU","d":"2022-08-15","v":3000,"t":"D"},{"c":"LU","d":"2022-09-15","v":1000,"t":"D"},{"c":"LU","d":"2022-10-15","v":2000,"t":"I"},{"c":"LU","d":"2022-11-15","v":1000,"t":"D"},{"c":"LU","d":"2022-12-15","v":2000,"t":"I"},{"c":"LU","d":"2023-01-15","v":500,"t":"D"},{"c":"LU","d":"2023-02-15","v":500,"t":"S"},{"c":"LU","d":"2023-03-10","v":500,"t":"S"},
{"c":"LV","d":"2021-03-15","v":3000,"t":"S"},{"c":"LV","d":"2021-04-15","v":4000,"t":"I"},{"c":"LV","d":"2021-05-15","v":3000,"t":"D"},{"c":"LV","d":"2021-06-15","v":500,"t":"D"},{"c":"LV","d":"2021-07-15","v":500,"t":"S"},{"c":"LV","d":"2021-08-15","v":2000,"t":"I"},{"c":"LV","d":"2021-09-15","v":8000,"t":"I"},{"c":"LV","d":"2021-10-15","v":17000,"t":"I"},{"c":"LV","d":"2021-11-15","v":8000,"t":"D"},{"c":"LV","d":"2021-12-15","v":2000,"t":"D"},{"c":"LV","d":"2022-01-15","v":20000,"t":"I"},{"c":"LV","d":"2022-02-01","v":40000,"t":"I"},{"c":"LV","d":"2022-02-15","v":68000,"t":"I"},{"c":"LV","d":"2022-03-15","v":45000,"t":"D"},{"c":"LV","d":"2022-04-15","v":15000,"t":"D"},{"c":"LV","d":"2022-05-15","v":3000,"t":"D"},{"c":"LV","d":"2022-06-15","v":2000,"t":"D"},{"c":"LV","d":"2022-07-15","v":5000,"t":"I"},{"c":"LV","d":"2022-08-15","v":9000,"t":"I"},{"c":"LV","d":"2022-09-15","v":6000,"t":"D"},{"c":"LV","d":"2022-10-15","v":8000,"t":"I"},{"c":"LV","d":"2022-11-15","v":4000,"t":"D"},{"c":"LV","d":"2022-12-15","v":3000,"t":"D"},{"c":"LV","d":"2023-01-15","v":2000,"t":"D"},{"c":"LV","d":"2023-02-15","v":1000,"t":"D"},{"c":"LV","d":"2023-03-10","v":500,"t":"D"},
{"c":"MT","d":"2021-03-15","v":2000,"t":"S"},{"c":"MT","d":"2021-04-15","v":400,"t":"D"},{"c":"MT","d":"2021-05-15","v":200,"t":"D"},{"c":"MT","d":"2021-06-15","v":100,"t":"D"},{"c":"MT","d":"2021-07-15","v":1300,"t":"I"},{"c":"MT","d":"2021-08-15","v":500,"t":"D"},{"c":"MT","d":"2021-09-15","v":200,"t":"D"},{"c":"MT","d":"2021-10-15","v":300,"t":"I"},{"c":"MT","d":"2021-11-15","v":300,"t":"S"},{"c":"MT","d":"2021-12-15","v":1500,"t":"I"},{"c":"MT","d":"2022-01-15","v":7800,"t":"I"},{"c":"MT","d":"2022-02-01","v":2000,"t":"D"},{"c":"MT","d":"2022-02-15","v":1500,"t":"D"},{"c":"MT","d":"2022-03-15","v":3500,"t":"I"},{"c":"MT","d":"2022-04-15","v":4500,"t":"I"},{"c":"MT","d":"2022-05-15","v":1000,"t":"D"},{"c":"MT","d":"2022-06-15","v":1500,"t":"I"},{"c":"MT","d":"2022-07-15","v":3800,"t":"I"},{"c":"MT","d":"2022-08-15","v":500,"t":"D"},{"c":"MT","d":"2022-09-15","v":200,"t":"D"},{"c":"MT","d":"2022-10-15","v":200,"t":"S"},{"c":"MT","d":"2022-11-15","v":200,"t":"S"},{"c":"MT","d":"2022-12-15","v":100,"t":"D"},{"c":"MT","d":"2023-01-15","v":100,"t":"S"},{"c":"MT","d":"2023-02-15","v":100,"t":"S"},{"c":"MT","d":"2023-03-10","v":100,"t":"S"},
{"c":"NL","d":"2021-03-15","v":50000,"t":"S"},{"c":"NL","d":"2021-04-15","v":60000,"t":"I"},{"c":"NL","d":"2021-05-15","v":40000,"t":"D"},{"c":"NL","d":"2021-06-15","v":10000,"t":"D"},{"c":"NL","d":"2021-07-15","v":70000,"t":"I"},{"c":"NL","d":"2021-08-15","v":20000,"t":"D"},{"c":"NL","d":"2021-09-15","v":15000,"t":"D"},{"c":"NL","d":"2021-10-15","v":30000,"t":"I"},{"c":"NL","d":"2021-11-15","v":150000,"t":"I"},{"c":"NL","d":"2021-12-15","v":100000,"t":"D"},{"c":"NL","d":"2022-01-15","v":350000,"t":"I"},{"c":"NL","d":"2022-02-01","v":850000,"t":"I"},{"c":"NL","d":"2022-02-15","v":400000,"t":"D"},{"c":"NL","d":"2022-03-15","v":480000,"t":"I"},{"c":"NL","d":"2022-04-15","v":50000,"t":"D"},{"c":"NL","d":"2022-05-15","v":20000,"t":"D"},{"c":"NL","d":"2022-06-15","v":15000,"t":"D"},{"c":"NL","d":"2022-07-15","v":40000,"t":"I"},{"c":"NL","d":"2022-08-15","v":20000,"t":"D"},{"c":"NL","d":"2022-09-15","v":10000,"t":"D"},{"c":"NL","d":"2022-10-15","v":20000,"t":"I"},{"c":"NL","d":"2022-11-15","v":15000,"t":"D"},{"c":"NL","d":"2022-12-15","v":10000,"t":"D"},{"c":"NL","d":"2023-01-15","v":10000,"t":"S"},{"c":"NL","d":"2023-02-15","v":5000,"t":"D"},{"c":"NL","d":"2023-03-10","v":5000,"t":"S"},
{"c":"NO","d":"2021-03-15","v":5000,"t":"S"},{"c":"NO","d":"2021-04-15","v":4000,"t":"D"},{"c":"NO","d":"2021-05-15","v":3000,"t":"D"},{"c":"NO","d":"2021-06-15","v":1000,"t":"D"},{"c":"NO","d":"2021-07-15","v":1000,"t":"S"},{"c":"NO","d":"2021-08-15","v":3000,"t":"I"},{"c":"NO","d":"2021-09-15","v":10000,"t":"I"},{"c":"NO","d":"2021-10-15","v":5000,"t":"D"},{"c":"NO","d":"2021-11-15","v":10000,"t":"I"},{"c":"NO","d":"2021-12-15","v":30000,"t":"I"},{"c":"NO","d":"2022-01-15","v":80000,"t":"I"},{"c":"NO","d":"2022-02-01","v":145000,"t":"I"},{"c":"NO","d":"2022-02-15","v":145000,"t":"S"},{"c":"NO","d":"2022-03-15","v":40000,"t":"D"},{"c":"NO","d":"2022-04-15","v":5000,"t":"D"},{"c":"NO","d":"2022-05-15","v":2000,"t":"D"},{"c":"NO","d":"2022-06-15","v":2000,"t":"S"},{"c":"NO","d":"2022-07-15","v":3000,"t":"I"},{"c":"NO","d":"2022-08-15","v":2000,"t":"D"},{"c":"NO","d":"2022-09-15","v":2000,"t":"S"},{"c":"NO","d":"2022-10-15","v":2000,"t":"S"},{"c":"NO","d":"2022-11-15","v":2000,"t":"S"},{"c":"NO","d":"2022-12-15","v":1000,"t":"D"},{"c":"NO","d":"2023-01-15","v":1000,"t":"S"},{"c":"NO","d":"2023-02-15","v":1000,"t":"S"},{"c":"NO","d":"2023-03-10","v":500,"t":"D"},
{"c":"PL","d":"2021-03-15","v":150000,"t":"I"},{"c":"PL","d":"2021-04-15","v":190000,"t":"I"},{"c":"PL","d":"2021-05-15","v":80000,"t":"D"},{"c":"PL","d":"2021-06-15","v":5000,"t":"D"},{"c":"PL","d":"2021-07-15","v":1000,"t":"D"},{"c":"PL","d":"2021-08-15","v":1000,"t":"S"},{"c":"PL","d":"2021-09-15","v":2000,"t":"I"},{"c":"PL","d":"2021-10-15","v":50000,"t":"I"},{"c":"PL","d":"2021-11-15","v":160000,"t":"I"},{"c":"PL","d":"2021-12-15","v":120000,"t":"D"},{"c":"PL","d":"2022-01-15","v":200000,"t":"I"},{"c":"PL","d":"2022-02-01","v":320000,"t":"I"},{"c":"PL","d":"2022-02-15","v":120000,"t":"D"},{"c":"PL","d":"2022-03-15","v":60000,"t":"D"},{"c":"PL","d":"2022-04-15","v":20000,"t":"D"},{"c":"PL","d":"2022-05-15","v":5000,"t":"D"},{"c":"PL","d":"2022-06-15","v":3000,"t":"D"},{"c":"PL","d":"2022-07-15","v":10000,"t":"I"},{"c":"PL","d":"2022-08-15","v":20000,"t":"I"},{"c":"PL","d":"2022-09-15","v":25000,"t":"I"},{"c":"PL","d":"2022-10-15","v":30000,"t":"I"},{"c":"PL","d":"2022-11-15","v":10000,"t":"D"},{"c":"PL","d":"2022-12-15","v":8000,"t":"D"},{"c":"PL","d":"2023-01-15","v":5000,"t":"D"},{"c":"PL","d":"2023-02-15","v":5000,"t":"S"},{"c":"PL","d":"2023-03-10","v":20000,"t":"I"},
{"c":"PT","d":"2021-03-15","v":5000,"t":"S"},{"c":"PT","d":"2021-04-15","v":5000,"t":"S"},{"c":"PT","d":"2021-05-15","v":5000,"t":"S"},{"c":"PT","d":"2021-06-15","v":10000,"t":"I"},{"c":"PT","d":"2021-07-15","v":25000,"t":"I"},{"c":"PT","d":"2021-08-15","v":15000,"t":"D"},{"c":"PT","d":"2021-09-15","v":5000,"t":"D"},{"c":"PT","d":"2021-10-15","v":5000,"t":"S"},{"c":"PT","d":"2021-11-15","v":15000,"t":"I"},{"c":"PT","d":"2021-12-15","v":60000,"t":"I"},{"c":"PT","d":"2022-01-15","v":250000,"t":"I"},{"c":"PT","d":"2022-02-01","v":390000,"t":"I"},{"c":"PT","d":"2022-02-15","v":180000,"t":"D"},{"c":"PT","d":"2022-03-15","v":90000,"t":"D"},{"c":"PT","d":"2022-04-15","v":100000,"t":"I"},{"c":"PT","d":"2022-05-15","v":170000,"t":"I"},{"c":"PT","d":"2022-06-15","v":130000,"t":"D"},{"c":"PT","d":"2022-07-15","v":40000,"t":"D"},{"c":"PT","d":"2022-08-15","v":20000,"t":"D"},{"c":"PT","d":"2022-09-15","v":15000,"t":"D"},{"c":"PT","d":"2022-10-15","v":15000,"t":"S"},{"c":"PT","d":"2022-11-15","v":10000,"t":"D"},{"c":"PT","d":"2022-12-15","v":10000,"t":"S"},{"c":"PT","d":"2023-01-15","v":5000,"t":"D"},{"c":"PT","d":"2023-02-15","v":3000,"t":"D"},{"c":"PT","d":"2023-03-10","v":3000,"t":"S"},
{"c":"RO","d":"2021-03-15","v":35000,"t":"I"},{"c":"RO","d":"2021-04-15","v":40000,"t":"I"},{"c":"RO","d":"2021-05-15","v":10000,"t":"D"},{"c":"RO","d":"2021-06-15","v":1000,"t":"D"},{"c":"RO","d":"2021-07-15","v":500,"t":"D"},{"c":"RO","d":"2021-08-15","v":1000,"t":"I"},{"c":"RO","d":"2021-09-15","v":30000,"t":"I"},{"c":"RO","d":"2021-10-15","v":100000,"t":"I"},{"c":"RO","d":"2021-11-15","v":60000,"t":"D"},{"c":"RO","d":"2021-12-15","v":5000,"t":"D"},{"c":"RO","d":"2022-01-15","v":30000,"t":"I"},{"c":"RO","d":"2022-02-01","v":200000,"t":"I"},{"c":"RO","d":"2022-02-15","v":100000,"t":"D"},{"c":"RO","d":"2022-03-15","v":20000,"t":"D"},{"c":"RO","d":"2022-04-15","v":5000,"t":"D"},{"c":"RO","d":"2022-05-15","v":2000,"t":"D"},{"c":"RO","d":"2022-06-15","v":2000,"t":"S"},{"c":"RO","d":"2022-07-15","v":40000,"t":"I"},{"c":"RO","d":"2022-08-15","v":55000,"t":"I"},{"c":"RO","d":"2022-09-15","v":20000,"t":"D"},{"c":"RO","d":"2022-10-15","v":8000,"t":"D"},{"c":"RO","d":"2022-11-15","v":5000,"t":"D"},{"c":"RO","d":"2022-12-15","v":5000,"t":"S"},{"c":"RO","d":"2023-01-15","v":3000,"t":"D"},{"c":"RO","d":"2023-02-15","v":2000,"t":"D"},{"c":"RO","d":"2023-03-10","v":5000,"t":"I"},
{"c":"SE","d":"2021-03-15","v":30000,"t":"I"},{"c":"SE","d":"2021-04-15","v":40000,"t":"I"},{"c":"SE","d":"2021-05-15","v":30000,"t":"D"},{"c":"SE","d":"2021-06-15","v":5000,"t":"D"},{"c":"SE","d":"2021-07-15","v":2000,"t":"D"},{"c":"SE","d":"2021-08-15","v":5000,"t":"I"},{"c":"SE","d":"2021-09-15","v":5000,"t":"S"},{"c":"SE","d":"2021-10-15","v":5000,"t":"S"},{"c":"SE","d":"2021-11-15","v":5000,"t":"S"},{"c":"SE","d":"2021-12-15","v":15000,"t":"I"},{"c":"SE","d":"2022-01-15","v":100000,"t":"I"},{"c":"SE","d":"2022-02-01","v":290000,"t":"I"},{"c":"SE","d":"2022-02-15","v":60000,"t":"D"},{"c":"SE","d":"2022-03-15","v":10000,"t":"D"},{"c":"SE","d":"2022-04-15","v":5000,"t":"D"},{"c":"SE","d":"2022-05-15","v":3000,"t":"D"},{"c":"SE","d":"2022-06-15","v":3000,"t":"S"},{"c":"SE","d":"2022-07-15","v":10000,"t":"I"},{"c":"SE","d":"2022-08-15","v":5000,"t":"D"},{"c":"SE","d":"2022-09-15","v":5000,"t":"S"},{"c":"SE","d":"2022-10-15","v":5000,"t":"S"},{"c":"SE","d":"2022-11-15","v":5000,"t":"S"},{"c":"SE","d":"2022-12-15","v":8000,"t":"I"},{"c":"SE","d":"2023-01-15","v":5000,"t":"D"},{"c":"SE","d":"2023-02-15","v":3000,"t":"D"},{"c":"SE","d":"2023-03-10","v":3000,"t":"S"},
{"c":"SI","d":"2021-03-15","v":5000,"t":"S"},{"c":"SI","d":"2021-04-15","v":8000,"t":"I"},{"c":"SI","d":"2021-05-15","v":5000,"t":"D"},{"c":"SI","d":"2021-06-15","v":2000,"t":"D"},{"c":"SI","d":"2021-07-15","v":1000,"t":"D"},{"c":"SI","d":"2021-08-15","v":3000,"t":"I"},{"c":"SI","d":"2021-09-15","v":10000,"t":"I"},{"c":"SI","d":"2021-10-15","v":20000,"t":"I"},{"c":"SI","d":"2021-11-15","v":25000,"t":"I"},{"c":"SI","d":"2021-12-15","v":15000,"t":"D"},{"c":"SI","d":"2022-01-15","v":60000,"t":"I"},{"c":"SI","d":"2022-02-01","v":98000,"t":"I"},{"c":"SI","d":"2022-02-15","v":55000,"t":"D"},{"c":"SI","d":"2022-03-15","v":20000,"t":"D"},{"c":"SI","d":"2022-04-15","v":10000,"t":"D"},{"c":"SI","d":"2022-05-15","v":5000,"t":"D"},{"c":"SI","d":"2022-06-15","v":5000,"t":"S"},{"c":"SI","d":"2022-07-15","v":12000,"t":"I"},{"c":"SI","d":"2022-08-15","v":10000,"t":"D"},{"c":"SI","d":"2022-09-15","v":15000,"t":"I"},{"c":"SI","d":"2022-10-15","v":10000,"t":"D"},{"c":"SI","d":"2022-11-15","v":10000,"t":"S"},{"c":"SI","d":"2022-12-15","v":12000,"t":"I"},{"c":"SI","d":"2023-01-15","v":5000,"t":"D"},{"c":"SI","d":"2023-02-15","v":2000,"t":"D"},{"c":"SI","d":"2023-03-10","v":2000,"t":"S"},
{"c":"SK","d":"2021-03-15","v":30000,"t":"D"},{"c":"SK","d":"2021-04-15","v":20000,"t":"D"},{"c":"SK","d":"2021-05-15","v":5000,"t":"D"},{"c":"SK","d":"2021-06-15","v":1000,"t":"D"},{"c":"SK","d":"2021-07-15","v":500,"t":"D"},{"c":"SK","d":"2021-08-15","v":500,"t":"S"},{"c":"SK","d":"2021-09-15","v":2000,"t":"I"},{"c":"SK","d":"2021-10-15","v":20000,"t":"I"},{"c":"SK","d":"2021-11-15","v":70000,"t":"I"},{"c":"SK","d":"2021-12-15","v":80000,"t":"I"},{"c":"SK","d":"2022-01-15","v":30000,"t":"D"},{"c":"SK","d":"2022-02-01","v":120000,"t":"I"},{"c":"SK","d":"2022-02-15","v":155000,"t":"I"},{"c":"SK","d":"2022-03-15","v":100000,"t":"D"},{"c":"SK","d":"2022-04-15","v":40000,"t":"D"},{"c":"SK","d":"2022-05-15","v":15000,"t":"D"},{"c":"SK","d":"2022-06-15","v":3000,"t":"D"},{"c":"SK","d":"2022-07-15","v":5000,"t":"I"},{"c":"SK","d":"2022-08-15","v":5000,"t":"S"},{"c":"SK","d":"2022-09-15","v":35000,"t":"I"},{"c":"SK","d":"2022-10-15","v":5000,"t":"D"},{"c":"SK","d":"2022-11-15","v":3000,"t":"D"},{"c":"SK","d":"2022-12-15","v":3000,"t":"S"},{"c":"SK","d":"2023-01-15","v":2000,"t":"D"},{"c":"SK","d":"2023-02-15","v":1000,"t":"D"},{"c":"SK","d":"2023-03-10","v":1000,"t":"S"}
]},
"spacing":14,
"vconcat":[
{"transform":[{"filter":{"field":"c","oneOf":["AT","BE","BG","CH","CY","CZ","DE","DK","EE","ES","FI","FR","GB","GR","HR","HU","IE","IS","IT","LI","LT","LU","LV","MT"]}}],
"facet":{"field":"c","type":"nominal","title":null},"columns":6,"spacing":{"column":26,"row":14},
"resolve":{"scale":{"y":"independent"},"axis":{"x":"independent"}},
"spec":{"width":200,"height":152,"layer":[
{"mark":{"type":"line","color":"black","strokeWidth":2},"encoding":{"x":{"field":"d","type":"temporal","scale":{"domain":["2021-02-20","2023-03-25"]},"title":null,"axis":{"labels":false,"values":[{"year":2021,"month":7,"date":1},{"year":2022,"month":1,"date":1},{"year":2022,"month":7,"date":1},{"year":2023,"month":1,"date":1}]}},"y":{"field":"v","type":"quantitative","title":null}}},
{"mark":{"type":"circle","size":30,"opacity":1},"encoding":{"x":{"field":"d","type":"temporal"},"y":{"field":"v","type":"quantitative"},"color":{"field":"t","type":"nominal","title":"Trend","scale":{"domain":["S","I","D"],"range":["#66c2a5","#fc8d62","#8da0cb"]},"legend":{"labelExpr":"datum.label=='S'?'Stable':datum.label=='I'?'Increasing':'Decreasing'"}}}}]}},
{"spacing":26,"hconcat":[
{"transform":[{"filter":{"field":"c","oneOf":["NL","NO","SI","SK"]}}],
"facet":{"field":"c","type":"nominal","title":null},"columns":2,"spacing":{"column":26,"row":14},
"resolve":{"scale":{"y":"independent"}},
"spec":{"width":200,"height":152,"layer":[
{"mark":{"type":"rule","color":"black","strokeWidth":1.5},"encoding":{"y":{"datum":0}}},
{"mark":{"type":"line","color":"black","strokeWidth":2},"encoding":{"x":{"field":"d","type":"temporal","scale":{"domain":["2021-02-20","2023-03-25"]},"title":null,"axis":{"format":"%Y-%m","labelAngle":-45,"labelAlign":"right","labelOverlap":false,"values":[{"year":2021,"month":7,"date":1},{"year":2022,"month":1,"date":1},{"year":2022,"month":7,"date":1},{"year":2023,"month":1,"date":1}]}},"y":{"field":"v","type":"quantitative","title":null}}},
{"mark":{"type":"circle","size":30,"opacity":1},"encoding":{"x":{"field":"d","type":"temporal"},"y":{"field":"v","type":"quantitative"},"color":{"field":"t","type":"nominal","title":"Trend","scale":{"domain":["S","I","D"],"range":["#66c2a5","#fc8d62","#8da0cb"]},"legend":{"labelExpr":"datum.label=='S'?'Stable':datum.label=='I'?'Increasing':'Decreasing'"}}}}]}},
{"transform":[{"filter":{"field":"c","oneOf":["PL","PT","RO","SE"]}}],
"facet":{"field":"c","type":"nominal","title":null},"columns":4,"spacing":{"column":26,"row":14},
"resolve":{"scale":{"y":"independent"},"axis":{"x":"independent"}},
"spec":{"width":200,"height":152,"layer":[
{"mark":{"type":"line","color":"black","strokeWidth":2},"encoding":{"x":{"field":"d","type":"temporal","scale":{"domain":["2021-02-20","2023-03-25"]},"title":null,"axis":{"format":"%Y-%m","labelAngle":-45,"labelAlign":"right","labelOverlap":false,"values":[{"year":2021,"month":7,"date":1},{"year":2022,"month":1,"date":1},{"year":2022,"month":7,"date":1},{"year":2023,"month":1,"date":1}]}},"y":{"field":"v","type":"quantitative","title":null}}},
{"mark":{"type":"circle","size":30,"opacity":1},"encoding":{"x":{"field":"d","type":"temporal"},"y":{"field":"v","type":"quantitative"},"color":{"field":"t","type":"nominal","title":"Trend","scale":{"domain":["S","I","D"],"range":["#66c2a5","#fc8d62","#8da0cb"]},"legend":{"labelExpr":"datum.label=='S'?'Stable':datum.label=='I'?'Increasing':'Decreasing'"}}}}]}}
]}
],
"config":{"view":{"stroke":null},"header":{"labelFontSize":20,"labelFont":"Liberation Sans","labelColor":"black","labelPadding":16},"axis":{"grid":false,"domainColor":"black","domainWidth":1.5,"tickColor":"black","tickWidth":1.2,"tickSize":5,"labelColor":"black","labelFontSize":17,"labelFont":"Liberation Sans"},"axisY":{"format":"d","tickCount":4,"minExtent":84,"maxExtent":84},"legend":{"orient":"none","legendX":600,"legendY":1385,"direction":"horizontal","titleOrient":"left","titleFontSize":26,"titleFontWeight":"normal","labelFontSize":21,"titleFont":"Liberation Sans","labelFont":"Liberation Sans","symbolSize":70,"columnPadding":45,"labelColor":"black","titleColor":"black"}}
}
